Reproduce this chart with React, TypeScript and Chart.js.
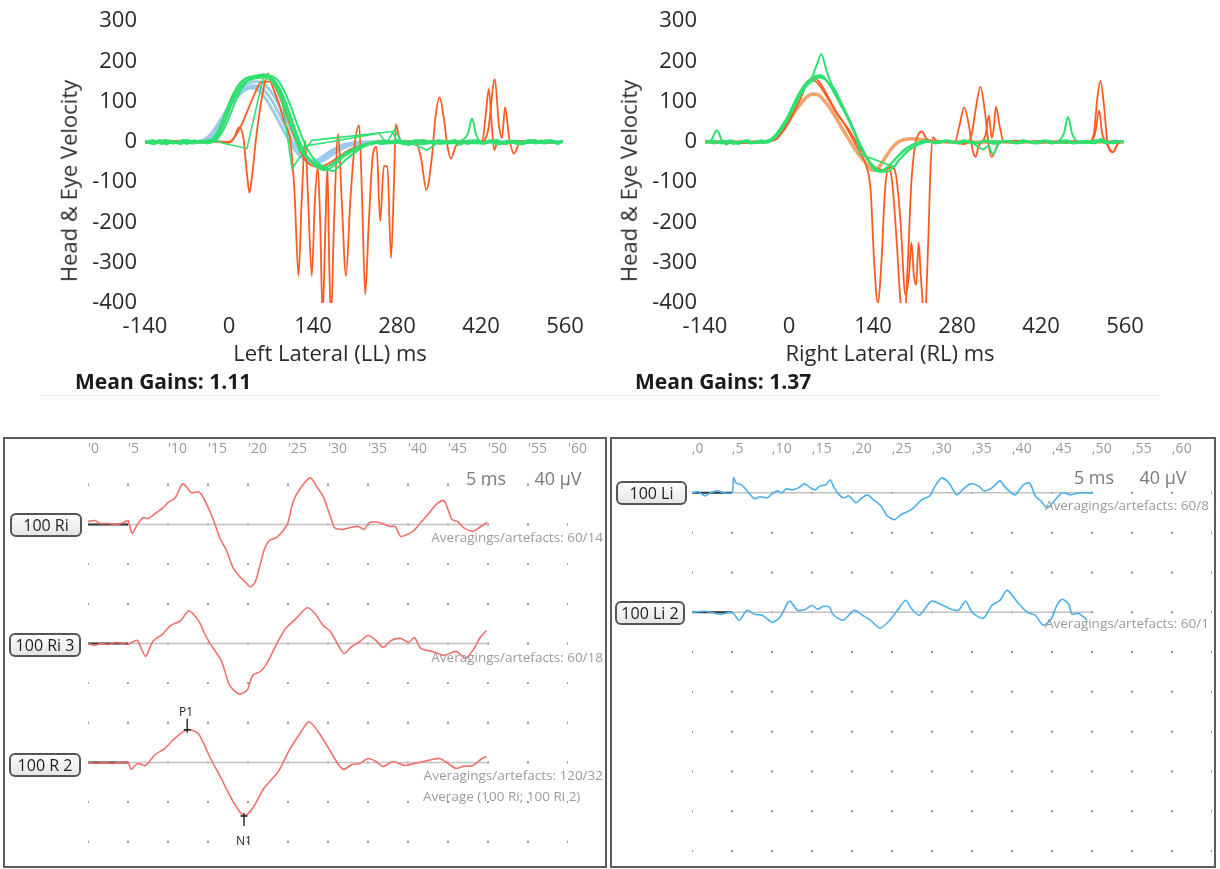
import React, { useEffect, useRef } from "react";
import { Chart, registerables } from "chart.js";
Chart.register(...registerables);

type Pt = [number, number];
const FONT = "'Open Sans', 'Noto Sans', sans-serif";

// ---------- Top vHIT panels ----------
const VHIT_X_TICKS = [-140, 0, 140, 280, 420, 560];
const VHIT_Y_TICKS = [-400, -300, -200, -100, 0, 100, 200, 300];

const LL_GREEN_1: Pt[] = [[-140,3],[-128,-4],[-116,5],[-104,-6],[-92,2],[-80,-5],[-68,4],[-56,-3],[-44,2],[-34,-2],[-24,6],[-14,30],[-4,62],[6,100],[16,130],[26,148],[36,156],[46,160],[56,164],[66,162],[76,150],[86,126],[96,90],[106,48],[116,6],[126,-28],[136,-46],[146,-56],[156,-62],[166,-60],[176,-50],[186,-36],[198,-24],[212,-14],[226,-6],[240,-2],[256,-5],[272,3],[288,-4],[304,2],[320,-6],[336,3],[352,-5],[368,2],[384,-7],[400,3],[416,-4],[432,2],[448,-6],[464,3],[480,-5],[496,2],[512,-4],[528,4],[544,-2],[555,3]];
const LL_GREEN_2: Pt[] = [[-140,-2],[-126,4],[-112,-5],[-98,3],[-84,-4],[-70,5],[-56,-2],[-42,3],[-32,4],[-22,18],[-12,48],[-2,88],[8,122],[18,146],[28,158],[38,163],[48,166],[58,168],[68,160],[78,140],[88,108],[98,68],[108,26],[118,-10],[128,-36],[138,-52],[148,-64],[158,-70],[168,-66],[178,-54],[190,-38],[204,-22],[218,-10],[232,-4],[248,2],[264,-4],[280,5],[296,-3],[312,4],[328,-5],[344,2],[360,-4],[376,5],[392,-3],[408,4],[424,-5],[440,2],[456,-4],[472,3],[488,-6],[504,2],[520,-3],[536,5],[550,-3],[556,4]];
const LL_GREEN_3: Pt[] = [[-140,0],[-124,-5],[-108,4],[-92,-3],[-76,5],[-60,-4],[-46,2],[-36,-4],[-26,2],[-16,14],[-6,40],[4,76],[14,112],[24,140],[34,155],[44,160],[54,162],[64,166],[74,162],[84,148],[94,120],[104,84],[114,42],[124,4],[134,-26],[144,-46],[154,-58],[164,-68],[174,-72],[184,-60],[196,-42],[210,-26],[224,-12],[238,-4],[254,3],[270,-3],[286,2],[302,-5],[318,4],[334,-3],[350,5],[366,-4],[382,2],[398,-5],[414,4],[430,-2],[446,5],[462,-4],[478,3],[494,-2],[510,5],[526,-4],[542,2],[556,-1]];
const LL_GREEN_4: Pt[] = [[-140,-4],[-130,3],[-118,-2],[-106,5],[-94,-4],[-82,3],[-70,-5],[-58,4],[-46,-2],[-36,3],[-26,10],[-16,34],[-6,70],[4,108],[14,136],[24,152],[34,160],[44,158],[54,160],[64,164],[74,156],[84,134],[94,100],[104,58],[114,16],[124,-20],[134,-44],[144,-58],[154,-66],[164,-62],[174,-52],[186,-40],[200,-28],[214,-16],[228,-8],[244,-3],[260,4],[276,-4],[292,3],[308,-2],[324,5],[340,-4],[356,3],[372,-3],[388,4],[398,20],[405,58],[412,18],[420,-2],[436,4],[452,-5],[468,3],[484,-4],[500,5],[516,-2],[532,3],[548,-5],[556,2]];
const LL_GREEN_S1: Pt[] = [[-140,2],[-120,-3],[-100,4],[-80,-2],[-60,3],[-40,-3],[-20,2],[-8,-4],[30,-16],[57,160],[66,166],[76,150],[88,112],[105,-66],[138,4],[272,26],[282,-2],[300,-8],[320,3],[340,-4],[360,2],[380,-3],[400,4],[420,-2],[440,3],[460,-5],[480,2],[500,-3],[520,4],[540,-2],[556,2]];
const LL_GREEN_S2: Pt[] = [[-140,-1],[-110,3],[-80,-4],[-50,3],[-30,-2],[-20,6],[-10,38],[0,80],[10,118],[20,140],[30,150],[40,156],[50,162],[60,160],[70,152],[80,130],[90,96],[100,54],[110,12],[118,-24],[126,-10],[160,-2],[250,22],[262,-4],[276,30],[290,-6],[296,2],[330,-20],[350,0],[380,3],[410,-4],[440,2],[470,-3],[500,3],[530,-2],[556,1]];
const LL_ORANGE_1: Pt[] = [[-140,0],[-100,2],[-60,-2],[-20,0],[0,-2],[8,10],[17,37],[24,10],[30,-80],[34,-126],[38,-90],[46,20],[56,120],[65,170],[72,140],[82,100],[92,50],[102,5],[109,-120],[116,-333],[121,-150],[127,4],[132,-150],[138,-333],[143,-150],[148,-62],[152,-200],[156,-430],[160,-250],[164,-60],[167,-300],[170,-440],[175,-200],[182,20],[188,-150],[195,-333],[202,-150],[210,0],[217,41],[222,-150],[227,-379],[233,-200],[240,-30],[246,-12],[252,-197],[258,-60],[264,-60],[270,-288],[275,-100],[278,44],[284,10],[295,-5],[310,0],[320,-40],[329,-119],[338,-40],[344,60],[351,111],[358,60],[364,-10],[370,-41],[378,-10],[390,0],[410,3],[422,0],[428,70],[433,132],[438,40],[442,-20],[448,0],[460,-5],[480,3],[500,-2],[520,2],[540,-2],[556,0]];
const LL_ORANGE_2: Pt[] = [[-140,-2],[-100,3],[-60,-1],[-20,2],[0,0],[20,40],[40,110],[55,150],[70,150],[85,110],[100,50],[115,-10],[130,-50],[150,-62],[170,-50],[200,-20],[230,-5],[260,0],[300,2],[340,-3],[380,2],[420,0],[432,30],[443,156],[450,40],[455,10],[460,86],[467,10],[475,-29],[485,0],[500,3],[530,-2],[556,1]];
const LL_BLUE_1: Pt[] = [[-140,0],[-70,1],[-50,2],[-40,6],[-30,18],[-20,38],[-10,62],[0,86],[10,106],[20,122],[30,134],[40,140],[50,138],[60,126],[70,106],[80,80],[90,50],[100,20],[110,-8],[120,-28],[130,-40],[140,-46],[150,-44],[160,-36],[175,-22],[190,-10],[210,-3],[240,0],[300,1],[400,-1],[556,0]];
const LL_BLUE_2: Pt[] = [[-140,1],[-60,0],[-44,4],[-34,14],[-24,32],[-14,56],[-4,80],[6,100],[16,116],[26,128],[36,134],[46,132],[56,118],[66,96],[76,70],[86,42],[96,14],[106,-12],[116,-32],[126,-44],[136,-50],[146,-46],[158,-34],[172,-20],[188,-8],[206,-2],[240,1],[320,-1],[440,1],[556,0]];
const LL_BLUE_3: Pt[] = [[-140,-1],[-50,0],[-36,6],[-26,20],[-16,44],[-6,72],[4,98],[14,120],[24,136],[34,146],[44,150],[54,148],[64,136],[74,116],[84,90],[94,60],[104,28],[114,-2],[124,-26],[134,-42],[144,-50],[154,-48],[166,-38],[180,-24],[196,-12],[214,-4],[250,0],[360,1],[480,-1],[556,0]];

const RL_GREEN_1: Pt[] = [[-140,0],[-130,4],[-120,29],[-112,4],[-104,-6],[-94,2],[-84,-5],[-74,3],[-64,-4],[-54,2],[-44,-3],[-34,3],[-24,14],[-14,30],[-4,50],[6,80],[16,110],[26,138],[36,156],[46,162],[56,160],[66,146],[76,120],[86,92],[96,64],[106,32],[116,0],[126,-30],[136,-56],[146,-72],[156,-70],[166,-60],[176,-44],[186,-30],[196,-18],[206,-8],[216,-2],[230,2],[246,-3],[262,4],[278,-2],[294,3],[310,-4],[326,2],[342,-5],[358,3],[374,-2],[390,4],[406,-3],[422,2],[438,-4],[450,3],[458,20],[465,62],[472,20],[480,2],[496,-3],[512,4],[528,-2],[544,3],[558,-2]];
const RL_GREEN_2: Pt[] = [[-140,-3],[-126,3],[-112,-4],[-98,4],[-84,-2],[-70,5],[-56,-3],[-42,2],[-32,5],[-22,18],[-12,40],[-2,64],[8,96],[18,124],[28,146],[38,160],[46,190],[54,218],[62,180],[70,146],[80,120],[90,88],[100,56],[110,20],[120,-14],[130,-42],[140,-62],[150,-74],[160,-68],[170,-54],[180,-38],[190,-22],[202,-10],[214,-2],[228,4],[244,-4],[260,3],[276,-3],[292,4],[308,-5],[324,-18],[332,-10],[340,-30],[350,-4],[366,3],[382,-3],[398,2],[414,-4],[430,3],[446,-2],[462,4],[478,-3],[494,2],[510,-3],[520,8],[528,-4],[544,2],[558,1]];
const RL_GREEN_3: Pt[] = [[-140,2],[-124,-4],[-108,3],[-92,-5],[-76,2],[-60,-3],[-46,4],[-36,-2],[-26,8],[-16,22],[-6,46],[4,74],[14,104],[24,130],[34,152],[44,164],[54,166],[64,150],[74,128],[84,100],[94,76],[104,44],[114,10],[124,-22],[134,-48],[144,-64],[154,-74],[164,-74],[174,-62],[184,-44],[194,-28],[206,-14],[220,-4],[234,2],[250,-2],[266,3],[282,-4],[298,2],[314,-3],[330,4],[346,-2],[362,3],[378,-4],[394,2],[410,-3],[426,4],[442,-2],[458,3],[474,-4],[490,2],[506,-3],[522,4],[538,-3],[558,2]];
const RL_GREEN_S1: Pt[] = [[-140,0],[-100,3],[-60,-3],[-30,2],[-20,14],[-10,36],[0,60],[10,90],[20,118],[30,140],[40,152],[50,160],[60,156],[70,140],[80,112],[90,82],[100,54],[110,22],[118,-30],[176,-62],[186,-40],[200,-20],[214,-6],[230,0],[260,3],[300,-2],[340,3],[380,-2],[420,2],[460,-3],[500,2],[540,-2],[558,1]];
const RL_ORANGE_THICK: Pt[] = [[-140,0],[-60,0],[-30,4],[-20,12],[-10,30],[0,52],[10,76],[20,96],[30,112],[40,119],[50,116],[60,100],[70,80],[80,56],[90,30],[100,6],[110,-18],[120,-38],[130,-56],[140,-70],[150,-62],[160,-40],[170,-18],[180,-2],[190,5],[205,8],[220,6],[240,2],[270,0],[556,0]];
const RL_ORANGE_1: Pt[] = [[-140,0],[-90,-3],[-40,2],[-20,8],[-10,30],[0,56],[10,90],[20,124],[30,148],[40,160],[50,150],[60,126],[70,98],[80,72],[90,50],[100,24],[110,-4],[120,-30],[128,-56],[136,-120],[142,-300],[148,-400],[154,-300],[160,-120],[166,-64],[172,-100],[180,-260],[186,-400],[192,-450],[198,-300],[204,-100],[210,-10],[216,20],[222,26],[228,10],[240,0],[260,2],[276,0],[284,40],[292,86],[300,40],[306,-20],[311,-37],[316,-10],[322,0],[328,20],[333,66],[338,10],[341,30],[345,88],[351,40],[358,0],[380,-2],[420,2],[460,-2],[500,0],[510,20],[517,78],[522,20],[528,0],[540,-25],[550,0],[556,2]];
const RL_ORANGE_2: Pt[] = [[-140,2],[-80,-2],[-30,3],[-10,26],[0,50],[20,110],[35,155],[45,150],[60,120],[80,70],[100,30],[120,-20],[140,-60],[160,-70],[170,-62],[178,-80],[186,-200],[194,-380],[200,-330],[204,-250],[208,-330],[212,-355],[216,-250],[220,-340],[226,-440],[232,-250],[236,-60],[240,12],[246,2],[270,0],[290,-5],[303,10],[311,80],[319,137],[327,70],[333,-10],[338,-37],[344,-20],[350,0],[380,3],[420,-2],[460,2],[500,0],[508,20],[514,110],[519,152],[525,90],[531,-5],[540,-25],[548,-5],[556,0]];

// ---------- Bottom VEMP panels ----------
const VEMP_X_TICKS = [0, 5, 10, 15, 20, 25, 30, 35, 40, 45, 50, 55, 60];
const DOT_COLS_L = [0, 5, 10, 15, 20, 25, 30, 35, 40, 45, 50, 55, 60];
const DOT_COLS_R = [0, 5, 10, 15, 20, 25, 30, 35, 40, 45, 50, 55, 60, 65];
const DOT_ROWS_L = [40, 0, -40, -80, -120, -160, -200, -240, -280, -320];
const DOT_ROWS_R = [0, -40, -80, -120, -160, -200, -240, -280, -320, -360];
const BASELINES_L = [0, -120, -240];
const BASELINES_R = [0, -120];

const RI_1: Pt[] = [[0,3],[0.9,4],[1.5,1],[2.5,1],[3.5,0],[4.5,2],[5,4],[5.5,-9],[6.1,-1],[6.9,7],[7.5,6],[8.4,11],[9.4,17],[10,22],[10.9,27],[11.8,41],[12.3,38],[12.9,32],[13.8,33],[14.2,30],[14.8,21],[15.7,4],[16.5,-14],[17.3,-26],[18.1,-43],[19,-53],[19.8,-59],[20.3,-63],[20.9,-58],[21.5,-41],[22.1,-24],[22.7,-16],[23.6,-13],[24.4,-6],[25,2],[25.6,22],[26.5,36],[27.8,47],[28.6,38],[29.4,28],[30.3,8],[30.8,-3],[31.8,-5],[32.8,-3],[33.8,-2],[34.5,-5],[35.2,2],[36.4,2],[37.7,-2],[38.4,-2],[39.1,-12],[40.6,-7],[41.6,2],[42.5,10],[43.5,20],[44.5,24],[45.5,5],[46.2,3],[46.9,-3],[48.1,-7],[49.1,-2],[49.9,2]];
const RI_3: Pt[] = [[0,0],[0.8,-2],[1.6,0],[2.5,-1],[3.5,1],[4.5,0],[5,-1],[5.7,2],[6.2,3],[7.2,-13],[8.1,2],[9.4,10],[10.3,18],[11.6,23],[12.6,33],[13.8,23],[14.7,8],[15.5,-3],[16.7,-18],[17.7,-42],[18.9,-51],[19.9,-47],[20.6,-32],[21.6,-28],[22.5,-18],[23.5,-2],[24.7,15],[26,25],[27.4,36],[28.4,30],[29.4,18],[30.3,12],[31.3,-2],[32,-10],[33,-3],[34,2],[35,8],[36,3],[36.9,-4],[37.9,3],[39.1,5],[40.1,1],[40.8,6],[41.6,-5],[43,-8],[44.5,-12],[46,-8],[47.2,-15],[48.1,-7],[49.1,7],[49.8,13]];
const R_2: Pt[] = [[0,0],[1,-1],[2,0],[3,-1],[4,0],[5,0],[5.4,-7],[6.2,-1],[7.2,-3],[8.4,8],[9.6,14],[10.8,24],[12.4,33],[13.8,29],[15.2,6],[16.7,-17],[18.1,-39],[19.5,-54],[20.6,-46],[22,-26],[23.8,-9],[25.2,13],[26.4,28],[27.6,41],[28.6,33],[30.1,14],[31.3,-2],[32,-7],[33,-2],[34,-1],[35,4],[36,1],[36.9,-4],[38.1,1],[39.6,-3],[40.8,-1],[42,1],[43,3],[44,4],[45,-1],[46,-6],[46.9,-4],[48.1,-3],[49.1,3],[49.8,6]];
const LI_1: Pt[] = [[0,0],[0.8,1],[1.6,-3],[2.3,0],[3.2,2],[4,0],[5,0],[5.2,15],[5.5,10],[6.2,8],[6.9,2],[7.5,-4],[7.9,-6],[8.5,-4],[9.4,-5],[10,-1],[10.7,2],[11.2,0],[11.8,4],[12.5,3],[13.3,5],[14.1,9],[14.8,5],[15.4,3],[16,7],[16.7,8],[17.3,13],[17.7,6],[18.4,-2],[19,-5],[19.6,-3],[20.5,-10],[21.1,-6],[21.9,-2],[22.7,-7],[23.6,-13],[24.4,-23],[25.3,-27],[26.1,-22],[26.9,-19],[27.7,-15],[28.7,-7],[29.7,-3],[30.4,7],[31.2,15],[32.1,10],[33.1,-2],[33.8,3],[34.8,9],[35.8,7],[36.5,2],[37.5,5],[38.5,12],[39,7],[39.5,3],[40.4,-2],[41.4,8],[42.2,10],[42.9,-3],[43.6,-8],[44.4,-15],[45.3,-8],[46.3,0],[47.3,-2],[48.3,0],[49.3,0],[50.1,0]];
const LI_2: Pt[] = [[0,0],[1.7,1],[3.6,-2],[5,0],[5.9,-8],[6.9,2],[7.8,-2],[8.8,-3],[10,-10],[11,-5],[12,10],[12.3,11],[13.2,2],[14.2,3],[15,7],[15.7,3],[16.4,6],[17.2,5],[17.6,-2],[18.9,-8],[20.3,2],[21.3,-3],[22.3,-8],[23.5,-16],[24.5,-10],[25.7,2],[26.7,12],[27.5,3],[28.4,-3],[29.9,11],[31.1,8],[32.4,3],[33.3,2],[34.2,11],[35,0],[36.4,-6],[37.5,7],[38.5,12],[39.4,22],[40.7,10],[41.9,0],[42.9,-3],[43.9,-13],[44.9,-7],[45.6,7],[46.3,13],[47.1,8],[47.5,-2],[48.3,-1],[49.4,-8]];
const PEAK_P1: Pt = [12.4, 33];
const PEAK_N1: Pt = [19.5, -54];

const GREEN = "#2fe070";
const ORANGE = "#ff5a22";
const ORANGE_THICK = "#f3a46c";
const BLUE = "#9acbea";
const RED = "#f0706c";
const SKY = "#4eb0ea";

function ds(data: Pt[], color: string, width: number, smooth: "mono" | number) {
  const d: any = { data, borderColor: color, backgroundColor: color, borderWidth: width, pointRadius: 0, fill: false };
  if (smooth === "mono") d.cubicInterpolationMode = "monotone";
  else d.tension = smooth;
  return d;
}

function vhitConfig(green: Pt[][], greenStraight: Pt[][], orange: Pt[][], orangeThick: Pt[][], blue: Pt[][]): any {
  const datasets: any[] = [];
  green.forEach((d) => datasets.push(ds(d, GREEN, 2, "mono")));
  greenStraight.forEach((d) => datasets.push(ds(d, GREEN, 1.6, 0)));
  orange.forEach((d) => datasets.push(ds(d, ORANGE, 1.8, "mono")));
  orangeThick.forEach((d) => datasets.push(ds(d, ORANGE_THICK, 3.5, "mono")));
  blue.forEach((d) => datasets.push(ds(d, BLUE, 2.8, "mono")));
  const tickFont = { family: FONT, size: 22 };
  return {
    type: "line",
    data: { datasets },
    options: {
      responsive: false,
      animation: false,
      events: [],
      layout: { padding: { left: 0, top: 20, right: 35, bottom: 0 } },
      plugins: { legend: { display: false }, tooltip: { enabled: false } },
      scales: {
        x: {
          type: "linear", min: -140, max: 560,
          afterBuildTicks: (s: any) => { s.ticks = VHIT_X_TICKS.map((v) => ({ value: v })); },
          afterFit: (s: any) => { s.height = 67; },
          grid: { display: false, drawTicks: false }, border: { display: false },
          ticks: { color: "#2a2a2a", font: tickFont, padding: 11, maxRotation: 0, autoSkip: false },
        },
        y: {
          type: "linear", min: -400, max: 300,
          afterBuildTicks: (s: any) => { s.ticks = VHIT_Y_TICKS.map((v) => ({ value: v })); },
          afterFit: (s: any) => { s.width = 145; },
          grid: { display: false, drawTicks: false }, border: { display: false },
          ticks: { color: "#2a2a2a", font: tickFont, padding: 8, autoSkip: false },
        },
      },
    },
  };
}

function vempConfig(traces: Pt[][], baselines: number[], color: string, cols: number[], rows: number[], yMin: number, yMax: number, xMax: number, padL: number, padR: number, mark: string, markers: boolean): any {
  const datasets: any[] = [];
  if (markers) {
    const p1: Pt = [PEAK_P1[0], PEAK_P1[1] + baselines[2]];
    const n1: Pt = [PEAK_N1[0], PEAK_N1[1] + baselines[2]];
    datasets.push({ data: [p1, n1], showLine: false, pointStyle: "line", pointRadius: 3.5, borderColor: "#222", borderWidth: 1.4 });
    datasets.push({ data: [[p1[0], p1[1] - 3], [p1[0], p1[1] + 11]], borderColor: "#222", borderWidth: 1.4, pointRadius: 0, tension: 0 });
    datasets.push({ data: [[n1[0], n1[1] + 3], [n1[0], n1[1] - 10]], borderColor: "#222", borderWidth: 1.4, pointRadius: 0, tension: 0 });
  }
  traces.forEach((t, i) => {
    const b = baselines[i];
    datasets.push(ds(t.map(([x, y]) => [x, y + b] as Pt), color, 1.6, 0.25));
  });
  baselines.forEach((b) => datasets.push(ds([[0, b], [5, b]], "#333", 2, 0)));
  baselines.forEach((b) => datasets.push(ds([[0, b], [50, b]], "#c2c2c2", 1.5, 0)));
  const dots: Pt[] = [];
  rows.forEach((r) => cols.forEach((c) => dots.push([c, r])));
  datasets.push({ data: dots, showLine: false, pointStyle: "rect", pointRadius: 1.4, backgroundColor: "#8e8e8e", borderWidth: 0 });
  return {
    type: "line",
    data: { datasets },
    options: {
      responsive: false,
      animation: false,
      events: [],
      layout: { padding: { left: padL, top: 0, right: padR, bottom: 2 } },
      plugins: { legend: { display: false }, tooltip: { enabled: false } },
      scales: {
        x: {
          type: "linear", position: "top", min: 0, max: xMax,
          afterBuildTicks: (s: any) => { s.ticks = VEMP_X_TICKS.map((v) => ({ value: v })); },
          afterFit: (s: any) => { s.height = 25; s.paddingLeft = 0; s.paddingRight = 0; },
          grid: { display: false, drawTicks: false }, border: { display: false },
          ticks: { color: "#9a9a9a", font: { family: FONT, size: 14 }, padding: 5, align: "start", maxRotation: 0, autoSkip: false, callback: (v: any) => mark + v },
        },
        y: { type: "linear", display: false, min: yMin, max: yMax },
      },
    },
  };
}

function ChartCanvas({ left, top, width, height, config }: { left: number; top: number; width: number; height: number; config: any }) {
  const ref = useRef<HTMLCanvasElement>(null);
  useEffect(() => {
    const chart = new Chart(ref.current as HTMLCanvasElement, config);
    return () => chart.destroy();
  }, []);
  return <canvas ref={ref} width={width} height={height} style={{ position: "absolute", left, top, width, height }} />;
}

function Txt({ x, y, text, size, color = "#2a2a2a", weight = 400, align = "center", rotate = false }: any) {
  const tx = align === "center" ? "-50%" : align === "right" ? "-100%" : "0";
  return (
    <div style={{ position: "absolute", left: x, top: y, transform: `translate(${tx}, -50%)${rotate ? " rotate(-90deg)" : ""}`, transformOrigin: rotate ? "center" : undefined, fontFamily: FONT, fontSize: size, color, fontWeight: weight, whiteSpace: "nowrap", lineHeight: 1.2 }}>
      {text}
    </div>
  );
}

function LabelBox({ x, y, w, text }: any) {
  return (
    <div style={{ position: "absolute", left: x, top: y, width: w, height: 24, boxSizing: "border-box", border: "2px solid #555", borderRadius: 6, background: "linear-gradient(#fcfcfc, #e6e6e6)", display: "flex", alignItems: "center", justifyContent: "center", fontFamily: FONT, fontSize: 16, color: "#1e1e1e", whiteSpace: "nowrap" }}>
      {text}
    </div>
  );
}

export default function App() {
  const llCfg = vhitConfig([LL_GREEN_1, LL_GREEN_2, LL_GREEN_3, LL_GREEN_4], [LL_GREEN_S1, LL_GREEN_S2], [LL_ORANGE_1, LL_ORANGE_2], [], [LL_BLUE_1, LL_BLUE_2, LL_BLUE_3]);
  const rlCfg = vhitConfig([RL_GREEN_1, RL_GREEN_2, RL_GREEN_3], [RL_GREEN_S1], [RL_ORANGE_1, RL_ORANGE_2], [RL_ORANGE_THICK], []);
  const blCfg = vempConfig([RI_1, RI_3, R_2], BASELINES_L, RED, DOT_COLS_L, DOT_ROWS_L, -340, 63, 60, 88, 38, "'", true);
  const brCfg = vempConfig([LI_1, LI_2], BASELINES_R, SKY, DOT_COLS_R, DOT_ROWS_R, -372, 31, 65, 82, 4, ",", false);
  const small = 13.5;
  const gray = "#9a9a9a";
  return (
    <div style={{ position: "absolute", left: 0, top: 0, width: 1220, height: 869, background: "#fff", overflow: "hidden" }}>
      {/* top panels */}
      <ChartCanvas left={0} top={0} width={600} height={370} config={llCfg} />
      <ChartCanvas left={560} top={0} width={600} height={370} config={rlCfg} />
      <Txt x={68} y={181} text="Head & Eye Velocity" size={22} rotate />
      <Txt x={628} y={181} text="Head & Eye Velocity" size={22} rotate />
      <Txt x={330} y={352} text="Left Lateral (LL) ms" size={22} />
      <Txt x={890} y={352} text="Right Lateral (RL) ms" size={22} />
      <Txt x={75} y={382} text="Mean Gains: 1.11" size={21} weight={700} align="left" color="#1a1a1a" />
      <Txt x={635} y={382} text="Mean Gains: 1.37" size={21} weight={700} align="left" color="#1a1a1a" />
      <div style={{ position: "absolute", left: 40, top: 395, width: 560, height: 1, background: "#ececec" }} />
      <div style={{ position: "absolute", left: 600, top: 395, width: 560, height: 1, background: "#ececec" }} />

      {/* bottom panels frames */}
      <div style={{ position: "absolute", left: 3, top: 437, width: 604, height: 431, boxSizing: "border-box", border: "2px solid #5c5c5c" }} />
      <div style={{ position: "absolute", left: 610, top: 437, width: 606, height: 431, boxSizing: "border-box", border: "2px solid #5c5c5c" }} />
      <ChartCanvas left={0} top={437} width={606} height={430} config={blCfg} />
      <ChartCanvas left={610} top={437} width={606} height={430} config={brCfg} />

      <LabelBox x={10} y={513} w={72} text="100 Ri" />
      <LabelBox x={9} y={633} w={72} text="100 Ri 3" />
      <LabelBox x={9} y={753} w={72} text="100 R 2" />
      <LabelBox x={616} y={481} w={71} text="100 Li" />
      <LabelBox x={615} y={601} w={70} text="100 Li 2" />

      <Txt x={486} y={479} text="5 ms" size={18} color="#7a7a7a" />
      <Txt x={558} y={479} text="40 µV" size={18} color="#7a7a7a" />
      <Txt x={1094} y={478} text="5 ms" size={18} color="#7a7a7a" />
      <Txt x={1163} y={478} text="40 µV" size={18} color="#7a7a7a" />

      <Txt x={603} y={537} text="Averagings/artefacts: 60/14" size={small} color={gray} align="right" />
      <Txt x={603} y={657} text="Averagings/artefacts: 60/18" size={small} color={gray} align="right" />
      <Txt x={603} y={775} text="Averagings/artefacts: 120/32" size={small} color={gray} align="right" />
      <Txt x={423} y={796} text="Average (100 Ri; 100 Ri 2)" size={small} color={gray} align="left" />
      <Txt x={1045} y={505} text="Averagings/artefacts: 60/8" size={small} color={gray} align="left" />
      <Txt x={1045} y={623} text="Averagings/artefacts: 60/1" size={small} color={gray} align="left" />

      <Txt x={186} y={712} text="P1" size={12} color="#222" />
      <Txt x={244} y={841} text="N1" size={12} color="#222" />
    </div>
  );
}
